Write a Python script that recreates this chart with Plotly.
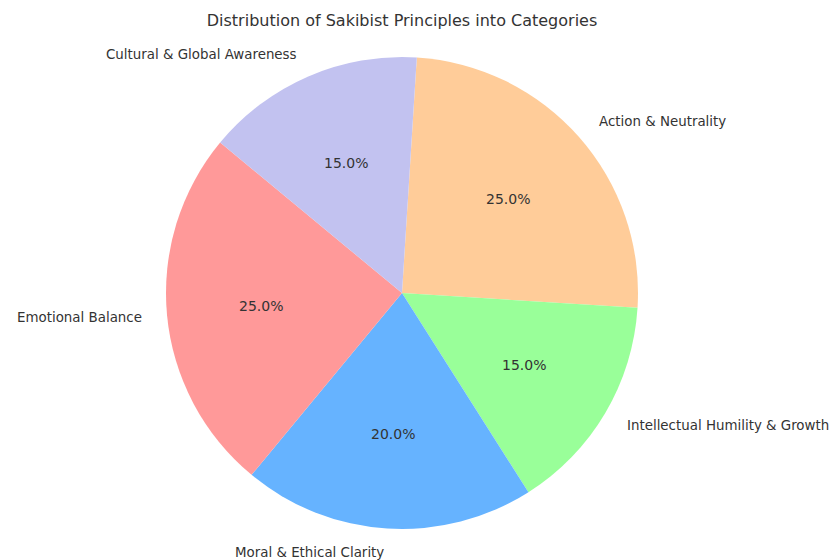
import numpy as np
import plotly.graph_objects as go

# Pie data (clockwise from the top)
categories = ["Action & Neutrality", "Intellectual Humility & Growth",
              "Moral & Ethical Clarity", "Emotional Balance",
              "Cultural & Global Awareness"]
shares = [25, 15, 20, 25, 15]
colors = ["#ffcc99", "#99ff99", "#66b3ff", "#ff9999", "#c2c2f0"]

# the page body adds an 8px margin on each side
OFF = 8
W, H = 839 - 2 * OFF, 560 - OFF
cx, cy, R = 402 - OFF, 293 - OFF, 236  # pie centre and radius in px
start_angle = 3.6                       # degrees clockwise from 12 o'clock

dom_x = [(cx - R) / W, (cx + R) / W]
dom_y = [1 - (cy + R) / H, 1 - (cy - R) / H]

fig = go.Figure()

fig.add_trace(go.Pie(
    labels=categories, values=shares, sort=False, direction="clockwise",
    rotation=start_angle, marker=dict(colors=colors, line=dict(width=0)),
    textinfo="none", hoverinfo="label+percent", showlegend=False,
    domain=dict(x=dom_x, y=dom_y),
))

# hidden axes over the whole figure, one unit = pie radius
fig.add_trace(go.Scatter(x=[], y=[], showlegend=False))

total = sum(shares)
cum = 0
label_font = dict(family="DejaVu Sans", size=13.4, color="#333333")
pct_font = dict(family="DejaVu Sans", size=14, color="#333333")
for name, v in zip(categories, shares):
    theta = np.radians(start_angle + 360 * (cum + v / 2) / total)
    cum += v
    sx, sy = np.sin(theta), np.cos(theta)
    fig.add_annotation(x=1.1 * sx, y=1.1 * sy, text=name, showarrow=False,
                       xanchor="right" if sx < 0 else "left", yanchor="middle",
                       font=label_font)
    fig.add_annotation(x=0.6 * sx, y=0.6 * sy, text=f"{v / total * 100:.1f}%",
                       showarrow=False, xanchor="center", yanchor="middle",
                       font=pct_font)

fig.update_layout(
    width=W, height=H,
    margin=dict(l=0, r=0, t=0, b=0),
    paper_bgcolor="white", plot_bgcolor="rgba(0,0,0,0)",
    title=dict(text="Distribution of Sakibist Principles into Categories",
               x=cx / W, xanchor="center", y=1 - (20 - OFF) / H, yanchor="middle",
               font=dict(family="DejaVu Sans", size=16, color="#333333")),
    xaxis=dict(domain=[0, 1], range=[-cx / R, (W - cx) / R],
               visible=False, fixedrange=True),
    yaxis=dict(domain=[0, 1], range=[-(H - cy) / R, cy / R],
               visible=False, fixedrange=True),
)

fig.write_html("out.html")
